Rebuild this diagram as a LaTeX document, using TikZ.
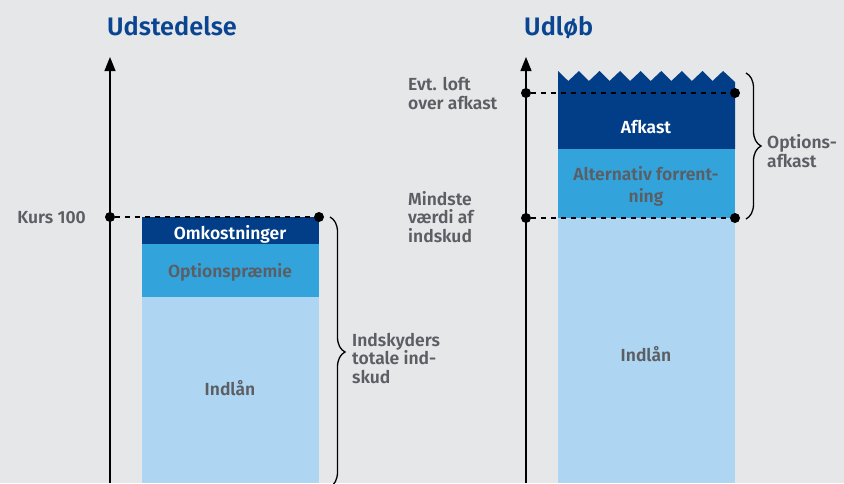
\documentclass[tikz,border=0pt]{standalone}
\usepackage{fontspec}
\setmainfont{Fira Sans}[BoldFont={Fira Sans SemiBold}]
\usetikzlibrary{arrows.meta,decorations.pathreplacing}

\definecolor{bg}{HTML}{E6E7E9}
\definecolor{darkblue}{HTML}{023D87}
\definecolor{midblue}{HTML}{33A3DC}
\definecolor{lightblue}{HTML}{AED5F1}
\definecolor{txt}{HTML}{5B5E63}
\definecolor{ttl}{HTML}{0A4591}

\begin{document}
\begin{tikzpicture}[x=1pt,y=-1pt,
      every node/.style={inner sep=0pt,text=txt,
        font=\bfseries\fontsize{17.5}{18.5}\selectfont},
      title/.style={anchor=base west,text=ttl,
        font=\bfseries\fontsize{25.3}{28}\selectfont},
      lab/.style={align=left,anchor=base west},
      inbar/.style={align=center,anchor=base},
      dot/.style={circle,fill=black,minimum size=10pt},
      guide/.style={dash pattern=on 5pt off 5pt,line width=1.2pt},
      axis/.style={-{Triangle[width=11pt,length=14pt]},line width=1.2pt},
      bracket/.style={decorate,decoration={brace,amplitude=15pt},line width=1.3pt}]
  \useasboundingbox (0,0) rectangle (844,483);
  \clip (0,0) rectangle (844,483);
  \fill[bg] (0,0) rectangle (844,483);

  % Udstedelse
  \node[title] (t1) at (107,35) {Udstedelse};
  \coordinate (a1b) at (110,483);
  \coordinate (a1t) at (110,57);
  \draw[axis] (a1b) -- (a1t);
  \fill[darkblue] (142,217) rectangle (319,244);
  \fill[midblue] (142,244) rectangle (319,297);
  \fill[lightblue] (142,297) rectangle (319,483);
  \node[inbar,text=white] (omk) at (230,239) {Omkostninger};
  \node[inbar] (opt) at (230,277) {Optionspræmie};
  \node[inbar] (ind1) at (230,395) {Indlån};
  \node[dot] (k1) at (110,217) {};
  \node[dot] (k2) at (319,217) {};
  \draw[guide] (k1) -- (k2);
  \node[anchor=base east] (kurs) at (86,223) {Kurs 100};
  \coordinate (b1t) at (330,217);
  \coordinate (b1b) at (330,487);
  \draw[bracket] (b1t) -- (b1b);
  \node[lab] (tot) at (352,383) {Indskyders\\totale ind-\\skud};

  % Udløb
  \node[title] (t2) at (524,35) {Udløb};
  \coordinate (a2b) at (526,483);
  \coordinate (a2t) at (526,57);
  \draw[axis] (a2b) -- (a2t);
  \fill[darkblue] (558,149) -- (558,71)
    \foreach \k in {0,...,7} {-- ({568.3+20.6*\k},81) -- ({578.9+20.6*\k},71)}
    -- (735,82) -- (735,149) -- cycle;
  \fill[midblue] (558,149) rectangle (735,218);
  \fill[lightblue] (558,218) rectangle (735,483);
  \node[inbar,text=white] (afk) at (646,133) {Afkast};
  \node[inbar] (alt) at (646,202) {Alternativ forrent-\\[3pt]ning};
  \node[inbar] (ind2) at (646,361) {Indlån};
  \node[dot] (l1) at (526,93) {};
  \node[dot] (l2) at (735,93) {};
  \draw[guide] (l1) -- (l2);
  \node[dot] (m1) at (526,218) {};
  \node[dot] (m2) at (735,218) {};
  \draw[guide] (m1) -- (m2);
  \node[lab] (loft) at (408,109) {Evt. loft\\over afkast};
  \node[lab] (min) at (408,242) {Mindste\\værdi af\\indskud};
  \coordinate (b2t) at (746,73);
  \coordinate (b2b) at (746,219);
  \draw[bracket] (b2t) -- (b2b);
  \node[lab] (oa) at (767,167) {Options-\\afkast};
\end{tikzpicture}
\end{document}
